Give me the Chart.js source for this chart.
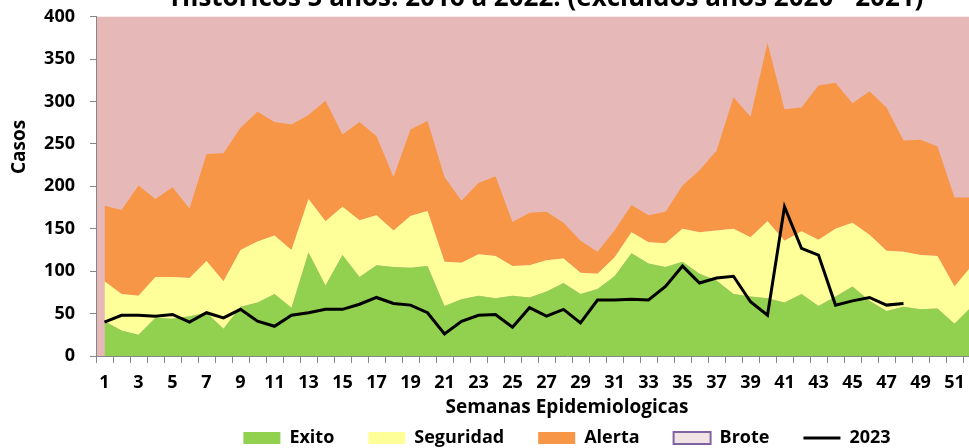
<!DOCTYPE html>
<html lang="es">
<head>
<meta charset="utf-8">
<title>Canal endémico</title>
<script src="https://cdn.jsdelivr.net/npm/chart.js@4.4.1/dist/chart.umd.min.js"></script>
<style>
  html, body { margin: 0; padding: 0; background: #fff; overflow: hidden; }
  #wrap { position: relative; width: 969px; height: 448px; overflow: hidden; }
  #grafico { position: absolute; left: 0; top: -30px; }
</style>
</head>
<body>
<div id="wrap"><canvas id="grafico" width="1094" height="487"></canvas></div>
<script>
// Semanas epidemiologicas
const semanas = ['1', '2', '3', '4', '5', '6', '7', '8', '9', '10', '11', '12', '13',
    '14', '15', '16', '17', '18', '19', '20', '21', '22', '23', '24', '25', '26',
    '27', '28', '29', '30', '31', '32', '33', '34', '35', '36', '37', '38', '39',
    '40', '41', '42', '43', '44', '45', '46', '47', '48', '49', '50', '51', '52'];

// limites superiores de cada zona del canal (historicos 2016-2022)
const exito = [41, 30, 25, 45, 44, 47, 51, 32, 58, 63, 73, 57, 122, 83, 119, 93, 107,
    105, 104, 106, 59, 67, 71, 68, 71, 69, 76, 86, 73, 79, 94, 121, 109, 105, 111, 97,
    89, 73, 70, 68, 63, 73, 59, 70, 82, 65, 53, 58, 55, 56, 38, 58];
const seguridad = [88, 73, 71, 93, 93, 92, 112, 88, 125, 135, 142, 125, 185, 159, 176,
    160, 166, 148, 165, 171, 111, 110, 120, 118, 106, 107, 113, 115, 98, 97, 116, 146,
    134, 133, 150, 146, 148, 150, 140, 159, 136, 147, 137, 150, 157, 143, 124, 123, 119,
    118, 82, 106];
const alerta = [177, 172, 201, 185, 199, 174, 238, 239, 269, 288, 276, 273, 284, 301,
    261, 276, 259, 211, 267, 277, 211, 183, 204, 212, 158, 169, 170, 157, 136, 123, 148,
    178, 166, 170, 201, 219, 242, 305, 282, 369, 291, 293, 319, 322, 298, 312, 293, 254,
    255, 247, 187, 187];

// casos 2023 (hasta semana 48)
const casos2023 = [40, 48, 48, 47, 49, 40, 51, 45, 55, 41, 35, 48, 51, 55, 55, 61, 69,
    62, 60, 51, 26, 41, 48, 49, 34, 57, 47, 55, 39, 66, 66, 67, 66, 82, 106, 86, 92, 94,
    64, 48, 176, 127, 119, 60, 65, 69, 60, 62, null, null, null, null];

const yTicks = [0, 50, 100, 150, 200, 250, 300, 350, 400];

const colorBrote = '#e6b9b8';
const colorEje = '#868686';
const anchoSemana = 17;

Chart.defaults.font.family = "'Open Sans', sans-serif";
Chart.defaults.color = '#000';

// zona de brote = fondo del area de trazado
const fondoBrote = {
    id: 'fondoBrote',
    beforeDraw(chart) {
        const a = chart.chartArea;
        const ctx = chart.ctx;
        ctx.save();
        ctx.fillStyle = colorBrote;
        ctx.fillRect(a.left, a.top, a.right - a.left, a.bottom - a.top);
        ctx.restore();
    }
};

// el eje de semanas queda cortado a la derecha como en el original
const anchoCategorias = {
    id: 'anchoCategorias',
    afterLayout(chart) {
        const x = chart.scales.x;
        x._endPixel = x._startPixel + anchoSemana * semanas.length;
        x._length = x._endPixel - x._startPixel;
    }
};

function zona(label, data, fill, color) {
    return {
        label: label,
        data: data,
        fill: fill,
        backgroundColor: color,
        borderColor: color,
        borderWidth: 0,
        pointRadius: 0,
        pointHoverRadius: 0,
        pointStyle: 'rect',
        pointBorderWidth: 0,
        tension: 0
    };
}

new Chart(document.getElementById('grafico'), {
    type: 'line',
    data: {
        labels: semanas,
        datasets: [
            zona('Exito', exito, 'origin', '#92d050'),
            zona('Seguridad', seguridad, '-1', '#ffff99'),
            zona('Alerta', alerta, '-1', '#f79646'),
            {
                label: 'Brote',
                data: [],
                fill: false,
                backgroundColor: '#f2e4e4',
                borderColor: '#8064a2',
                borderWidth: 2,
                pointRadius: 0,
                pointStyle: 'rect',
                pointBorderWidth: 2
            },
            {
                label: '2023',
                data: casos2023,
                fill: false,
                borderColor: '#000',
                backgroundColor: '#000',
                borderWidth: 3,
                pointRadius: 0,
                pointHoverRadius: 0,
                pointStyle: 'line',
                pointBorderWidth: 3,
                tension: 0
            }
        ]
    },
    options: {
        responsive: false,
        animation: false,
        events: [],
        layout: { padding: 0 },
        scales: {
            x: {
                offset: true,
                grid: { offset: true, drawOnChartArea: false, tickLength: 7, color: colorEje },
                border: { color: colorEje, z: 1 },
                ticks: {
                    autoSkip: false,
                    maxRotation: 0,
                    minRotation: 0,
                    padding: 9,
                    font: { size: 18, weight: 'bold' },
                    callback: function (val, i) {
                        return i % 2 === 0 ? this.getLabelForValue(val) : '';
                    }
                },
                title: {
                    display: true,
                    text: 'Semanas Epidemiologicas',
                    font: { size: 19, weight: 'bold' },
                    padding: { top: 0, bottom: -24 }
                },
                afterFit: function (s) { s.height = 39; }
            },
            y: {
                min: 0,
                max: 400,
                afterBuildTicks: function (s) {
                    s.ticks = yTicks.map(function (v) { return { value: v }; });
                },
                grid: { drawOnChartArea: false, tickLength: 6, color: colorEje },
                border: { color: colorEje, z: 1 },
                ticks: { padding: 15, font: { size: 18, weight: 'bold' } },
                title: {
                    display: true,
                    text: '                Casos',
                    font: { size: 19, weight: 'bold' },
                    padding: { top: 8, bottom: 0 }
                },
                afterFit: function (s) { s.width = 96; }
            },
            yDer: {
                position: 'right',
                display: true,
                ticks: { display: false },
                grid: { display: false },
                border: { display: false },
                afterFit: function (s) { s.width = 56; }
            }
        },
        plugins: {
            filler: { drawTime: 'beforeDatasetsDraw' },
            tooltip: { enabled: false },
            title: {
                display: true,
                text: 'Históricos 5 años: 2016 a 2022. (excluidos años 2020 - 2021)',
                font: { size: 26, weight: 'bold' },
                color: '#000',
                padding: { top: 13, bottom: 2.5 }
            },
            legend: {
                position: 'bottom',
                fullSize: false,
                align: 'center',
                labels: {
                    usePointStyle: true,
                    pointStyleWidth: 37,
                    boxHeight: 12,
                    padding: 34,
                    color: '#000',
                    font: { size: 18, weight: 'bold' }
                }
            }
        }
    },
    plugins: [fondoBrote, anchoCategorias]
});
</script>
</body>
</html>
